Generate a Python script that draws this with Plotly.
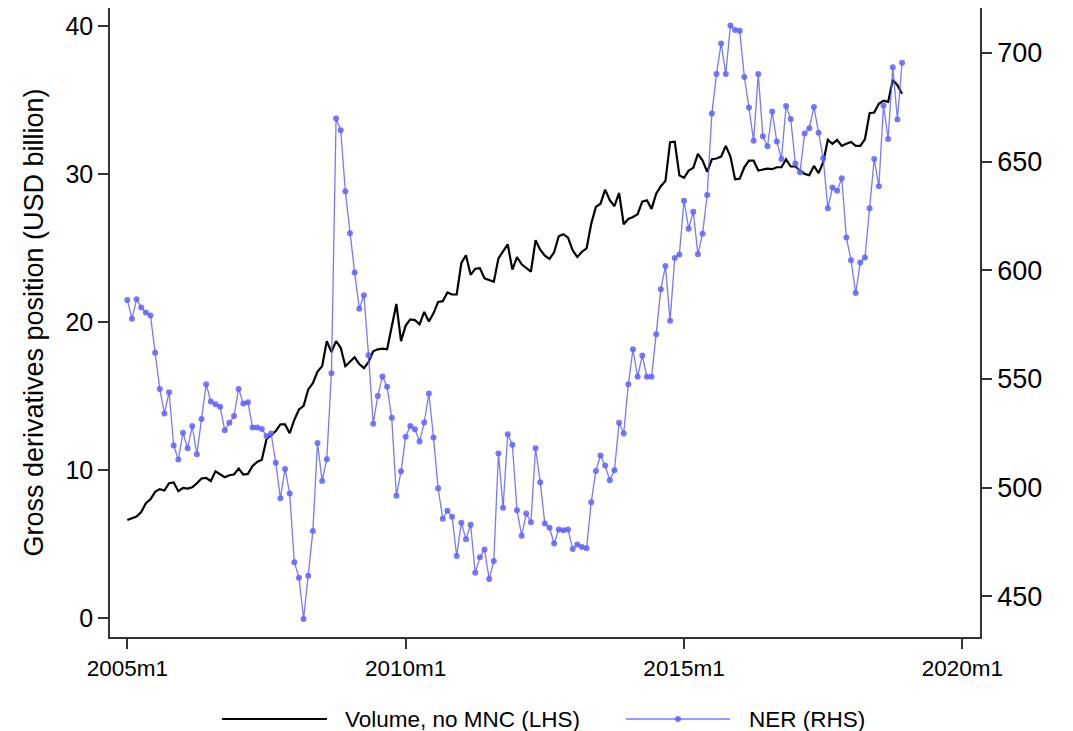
import plotly.graph_objects as go

# monthly series, 2005m1 .. 2018m12 (x = months since 2005m1)
MONTHS = list(range(168))

VOLUME = [
    6.64, 6.78, 6.87, 7.18, 7.77, 8.04, 8.54, 8.72, 8.63, 9.12, 9.17, 8.58,
    8.81, 8.76, 8.85, 9.12, 9.44, 9.48, 9.26, 9.93, 9.71, 9.53, 9.66, 9.71,
    10.11, 9.71, 9.75, 10.29, 10.56, 10.70, 12.09, 12.36, 12.64, 13.09, 13.09, 12.50,
    13.40, 14.10, 14.35, 15.45, 15.88, 16.66, 17.02, 18.71, 17.98, 18.71, 18.26, 17.02,
    17.34, 17.62, 17.16, 16.89, 17.30, 18.03, 18.16, 18.21, 18.16, 19.76, 21.22, 18.71,
    19.76, 20.18, 20.13, 19.85, 20.68, 20.04, 20.59, 21.36, 21.41, 22.00, 21.86, 21.86,
    23.97, 24.51, 23.19, 23.60, 23.64, 22.95, 22.86, 22.72, 24.30, 24.80, 25.25, 23.54,
    24.39, 23.90, 23.63, 23.40, 25.52, 24.89, 24.48, 24.26, 24.71, 25.79, 25.93, 25.70,
    24.84, 24.39, 24.75, 24.98, 26.64, 27.77, 27.99, 28.94, 28.22, 27.82, 28.72, 26.60,
    26.96, 27.09, 27.28, 28.13, 28.22, 27.64, 28.67, 29.17, 29.53, 32.14, 32.18, 29.90,
    29.74, 30.22, 30.41, 31.35, 30.90, 30.14, 30.99, 31.04, 31.17, 31.89, 31.17, 29.64,
    29.68, 30.45, 30.90, 30.90, 30.23, 30.32, 30.36, 30.32, 30.45, 30.45, 30.99, 30.50,
    30.50, 30.23, 30.00, 29.91, 30.54, 30.05, 30.77, 32.30, 32.03, 32.30, 31.89, 32.03,
    32.16, 31.89, 31.89, 32.34, 34.10, 34.14, 34.73, 34.95, 34.86, 36.35, 35.99, 35.41,
]

NER = [
    586.3, 577.7, 586.6, 582.9, 580.6, 579.2, 562.0, 545.4, 534.1, 543.9, 519.4, 512.9,
    525.2, 518.1, 528.3, 515.4, 531.6, 547.6, 539.6, 538.4, 537.2, 526.4, 529.8, 532.9,
    545.4, 538.7, 539.3, 527.7, 527.7, 527.0, 523.7, 524.9, 511.4, 495.1, 508.6, 497.3,
    465.7, 458.6, 439.6, 459.5, 480.1, 520.5, 503.1, 513.1, 552.6, 669.8, 664.4, 636.3,
    617.0, 599.0, 582.3, 588.5, 560.9, 529.4, 542.2, 551.1, 546.4, 532.1, 496.3, 507.5,
    523.4, 528.3, 526.8, 521.2, 529.9, 543.3, 523.1, 499.7, 485.7, 489.4, 486.6, 468.6,
    483.8, 476.3, 482.9, 460.8, 468.0, 471.5, 458.0, 466.3, 515.7, 490.8, 524.6, 519.7,
    489.6, 477.9, 488.1, 484.1, 518.1, 502.5, 483.5, 481.6, 474.3, 480.7, 480.4, 480.7,
    471.8, 473.9, 472.7, 472.1, 493.3, 507.7, 514.8, 510.2, 503.4, 508.0, 529.8, 524.9,
    547.6, 563.6, 551.0, 560.8, 551.0, 551.0, 570.6, 591.2, 601.9, 576.7, 605.6, 607.2,
    632.0, 619.1, 626.9, 607.3, 616.8, 634.6, 672.1, 690.2, 704.3, 690.2, 712.6, 710.5,
    710.1, 688.9, 674.8, 659.5, 690.2, 661.6, 657.0, 673.0, 659.2, 651.2, 675.5, 669.6,
    649.1, 645.1, 662.9, 665.3, 675.1, 663.2, 651.5, 628.5, 638.0, 636.5, 642.3, 615.0,
    604.6, 589.5, 603.6, 605.8, 628.5, 651.2, 638.6, 675.7, 660.4, 693.3, 669.3, 695.4,
]

X_TICKS = [0, 60, 120, 180]
X_LABELS = ["2005m1", "2010m1", "2015m1", "2020m1"]
LHS_TICKS = [0, 10, 20, 30, 40]
RHS_TICKS = [450, 500, 550, 600, 650, 700]

VOL_NAME = "Volume, no MNC (LHS)"
NER_NAME = "NER (RHS)"

FONT = "Liberation Sans, Arial, sans-serif"
BLUE = "rgba(96,96,255,0.85)"
AXIS = "#333333"


def axis_style(size):
    return dict(showgrid=False, zeroline=False, showline=True, linecolor=AXIS,
                linewidth=1.5, ticks="outside", ticklen=10, tickwidth=1.5,
                tickcolor=AXIS, tickfont=dict(size=size, color="black", family=FONT))


fig = go.Figure()
fig.add_trace(go.Scatter(x=MONTHS, y=VOLUME, name=VOL_NAME, mode="lines",
                         line=dict(color="black", width=2.2)))
fig.add_trace(go.Scatter(x=MONTHS, y=NER, name=NER_NAME, mode="lines+markers",
                         yaxis="y2", line=dict(color=BLUE, width=1.3),
                         marker=dict(color=BLUE, size=6)))

# page body adds an 8px offset, so the figure is 8px smaller than the window
fig.update_layout(
    width=1065, height=723,
    margin=dict(l=102, r=93, t=0, b=94),
    paper_bgcolor="white", plot_bgcolor="white",
    font=dict(family=FONT, color="black"),
    showlegend=False,
    xaxis=dict(range=[-3.73, 183.8], tickvals=X_TICKS, ticktext=X_LABELS, **axis_style(22.5)),
    yaxis=dict(range=[-1.26, 41.2], tickvals=LHS_TICKS,
               title=dict(text="Gross derivatives position (USD billion)",
                          font=dict(size=27, family=FONT), standoff=14),
               **axis_style(25)),
    yaxis2=dict(range=[431.3, 720.6], tickvals=RHS_TICKS, overlaying="y", side="right",
                **axis_style(27)),
)

# legend drawn below the plot: long line keys like the original
LEG_Y = -0.1304
fig.add_shape(type="line", xref="paper", yref="paper", x0=0.1287, x1=0.2494,
              y0=LEG_Y, y1=LEG_Y, line=dict(color="black", width=2.2))
fig.add_shape(type="line", xref="paper", yref="paper", x0=0.5931, x1=0.7126,
              y0=LEG_Y, y1=LEG_Y, line=dict(color=BLUE, width=1.3))
fig.add_shape(type="circle", xref="paper", yref="paper", xsizemode="pixel",
              ysizemode="pixel", xanchor=0.6529, yanchor=LEG_Y, x0=-3, x1=3, y0=-3, y1=3,
              fillcolor=BLUE, line=dict(width=0))
for xpos, label in [(0.2678, VOL_NAME), (0.7322, NER_NAME)]:
    fig.add_annotation(x=xpos, y=LEG_Y, xref="paper", yref="paper", text=label,
                       showarrow=False, xanchor="left", yanchor="middle",
                       font=dict(size=22.5, family=FONT, color="black"))

fig.write_html("out.html")
